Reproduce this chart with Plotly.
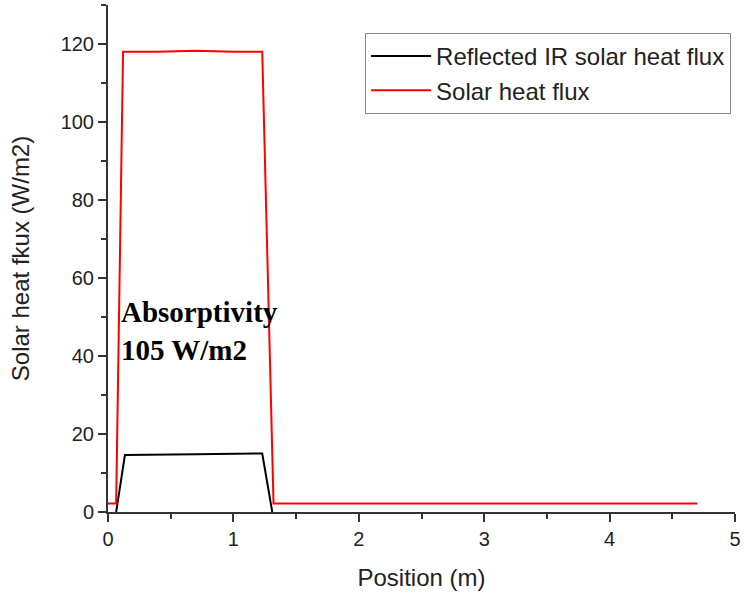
import plotly.graph_objects as go

# Data
solar_x = [0.0, 0.065, 0.12, 0.4, 0.7, 1.0, 1.23, 1.32, 4.70]
solar_y = [2.2, 2.2, 118.0, 118.0, 118.3, 118.0, 118.0, 2.2, 2.2]

refl_x = [0.065, 0.135, 0.7, 1.23, 1.31]
refl_y = [0.0, 14.6, 14.8, 15.0, 0.0]

annot_lines = ["Absorptivity", "105 W/m2"]

fig = go.Figure()
fig.add_trace(go.Scatter(x=refl_x, y=refl_y, mode="lines",
                         line=dict(color="#000000", width=2),
                         name="Reflected IR solar heat flux"))
fig.add_trace(go.Scatter(x=solar_x, y=solar_y, mode="lines",
                         line=dict(color="#ff0000", width=2),
                         name="Solar heat flux"))

fig.add_annotation(x=0.085, y=46.5, xref="x", yref="y",
                   text="<b>" + "<br>".join(annot_lines) + "</b>",
                   showarrow=False, xanchor="left", yanchor="middle", align="left",
                   font=dict(family="Liberation Serif", size=29, color="#000000"))

tick_font = dict(family="Liberation Sans", size=20, color="#222222")
title_font = dict(family="Liberation Sans", size=24, color="#222222")
fig.update_layout(
    width=754, height=593,
    margin=dict(l=108, r=19, t=5, b=81),
    paper_bgcolor="white", plot_bgcolor="white",
    font=dict(family="Liberation Sans", color="#222222"),
    showlegend=True,
    legend=dict(x=0.41, y=0.945, xanchor="left", yanchor="top",
                bordercolor="#888888", borderwidth=1, bgcolor="white",
                font=dict(family="Liberation Sans", size=24, color="#222222"),
                itemwidth=60, tracegroupgap=0),
    xaxis=dict(range=[0, 5], dtick=1, tick0=0, showgrid=False, zeroline=False,
               showline=True, linecolor="#333333", linewidth=2,
               ticks="outside", ticklen=8, tickwidth=2, tickcolor="#333333",
               minor=dict(dtick=0.5, ticks="outside", ticklen=5, tickwidth=2, tickcolor="#333333"),
               tickfont=tick_font,
               title=dict(text="Position (m)", font=title_font, standoff=20)),
    yaxis=dict(range=[0, 130], dtick=20, tick0=0, showgrid=False, zeroline=False,
               showline=True, linecolor="#333333", linewidth=2,
               ticks="outside", ticklen=8, tickwidth=2, tickcolor="#333333",
               minor=dict(dtick=10, ticks="outside", ticklen=5, tickwidth=2, tickcolor="#333333"),
               tickfont=tick_font,
               title=dict(text="Solar heat fkux (W/m2)", font=title_font, standoff=24)),
)

fig.write_html("out.html")
